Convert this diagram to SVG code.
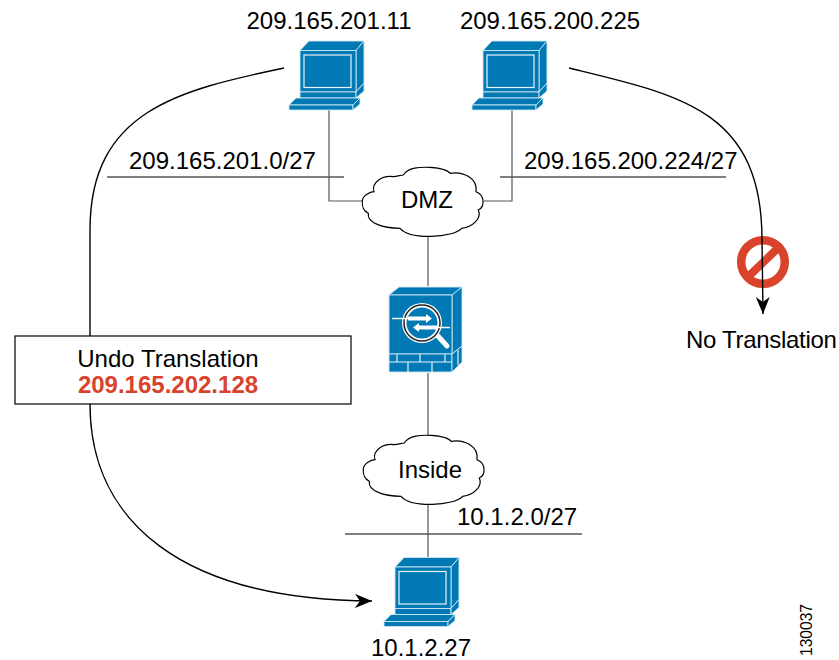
<svg xmlns="http://www.w3.org/2000/svg" width="839" height="660" viewBox="0 0 839 660">
<style>
text{font-family:"Liberation Sans",Arial,sans-serif;font-size:24px;fill:#000}
.m{text-anchor:middle}
.l{fill:none;stroke:#000;stroke-width:1}
.g{fill:none;stroke:#555;stroke-width:1.2}
.c{fill:none;stroke:#000;stroke-width:1.4}
.b{fill:#0079b5;stroke:#cfe6f2;stroke-width:.9;stroke-linejoin:round}
.w{fill:none;stroke:#e6f3fa;stroke-width:1.2}
.cl{fill:#fff;stroke:#000;stroke-width:1.2}
</style>
<defs>
<marker id="ah" markerWidth="18" markerHeight="16" refX="17" refY="7" orient="auto" markerUnits="userSpaceOnUse"><path d="M0,0 L17,7 L0,14 L5,7Z" fill="#000"/></marker>
<g id="pc">
<path class="b" d="M30,20.500 L39,11 L94,11 L86,20.500Z"/>
<path class="b" d="M86,20.500 L94,11 L94,53 L86,62Z"/>
<rect class="b" x="30" y="20.500" width="56" height="41.500"/>
<rect class="w" x="34" y="25" width="47" height="32.500"/>
<path class="b" d="M30,62 H86 V68 H30Z"/>
<path class="b" d="M86,62 L94,53 V61 L86,68Z"/>
<path class="b" d="M19,75 L26,68 H90 L83,75Z"/>
<path class="b" d="M19,75 H83 V80 H19Z"/>
<path class="b" d="M83,75 L90,68 V74 L83,80Z"/>
</g>
<path id="cloud" class="cl" d="M12.300,40.700 C13,35 20,32 24,31.700 C21,23 32,15 43.300,16.700 C48,16 52,15 53.300,15 C58,7 70,7 80,7.300 C90,8 98,10 100,13.300 C113,11 128,18 126,31.700 C135,35 135,47 128.300,50 C132,58 123,67 111.700,68.300 C103,78 60,80 50,68.300 C33,68 17,63 18.300,53.300 C12,50 12,45 12.300,40.700Z"/>
</defs>
<g id="no-sign">
<circle cx="763" cy="262" r="21.800" fill="none" stroke="#d9432b" stroke-width="8.500"/>
<path d="M749,276 L778,248" stroke="#d9432b" stroke-width="8"/>
</g>
<g id="connectors">
<path class="l" d="M107,177 H344"/>
<path class="l" d="M500,177 H726"/>
<path class="l" d="M345,534 H582"/>
<path class="g" d="M329,110 V201 H363"/>
<path class="g" d="M512,110 V201 H484"/>
<path class="g" d="M428,237 V286"/>
<path class="g" d="M428,373 V436"/>
<path class="g" d="M428,504 V557"/>
<path class="c" d="M284,68 C180,90 90,110 90,230 V336"/>
<path class="c" d="M90,404 C90,520 180,600 372,601" marker-end="url(#ah)"/>
<path class="c" d="M569,68 C680,95 762,110 762,240 L763,314" marker-end="url(#ah)"/>
</g>
<g id="pc1"><use href="#pc" x="270" y="30"/><text class="m" x="329" y="29">209.165.201.11</text></g>
<g id="pc2"><use href="#pc" x="453" y="30"/><text class="m" x="550" y="29">209.165.200.225</text></g>
<g id="pc3"><use href="#pc" x="365" y="546.500"/><text class="m" x="421" y="656">10.1.2.27</text></g>
<g id="dmz"><use href="#cloud" x="350" y="160"/><text class="m" x="427" y="208">DMZ</text></g>
<g id="inside"><use href="#cloud" x="351" y="428"/><text class="m" x="430" y="478">Inside</text></g>
<g id="firewall">
<path class="b" d="M389,295 L399,287 H462 L452,295Z"/>
<path class="b" d="M452,295 L462,287 V346 L452,354Z"/>
<rect class="b" x="389" y="295" width="63" height="59"/>
<rect class="b" x="389" y="354" width="63" height="18"/>
<path class="b" d="M452,354 L462,346 V362 L452,372Z"/>
<path class="w" d="M389,362 H452 M397,354 V362 M420,354 V362 M445,354 V362 M408,362 V372 M432,362 V372 M458,350 V365"/>
<path d="M437,335 L447,346" stroke="#fff" stroke-width="5" stroke-linecap="round"/>
<circle cx="422" cy="323" r="20" fill="#fff"/>
<circle cx="422" cy="323" r="18" fill="#fff" stroke="#222" stroke-width="1.500"/>
<circle cx="422" cy="323" r="15.500" fill="#0079b5"/>
<path d="M392,318.500 H412 M430,327.500 H450" stroke="#fff" stroke-width="1.300"/>
<path d="M408,316.500 H426 V314 L432,318.500 L426,323 V320.500 H408Z M438,325.500 H419 V323 L413,327.500 L419,332 V329.500 H438Z" fill="#fff"/>
</g>
<g id="nat-box">
<rect x="15" y="336" width="336" height="68" fill="#fff" stroke="#000" stroke-width="1.200"/>
<text class="m" x="168" y="367">Undo Translation</text>
<text class="m" x="168" y="393" style="font-weight:bold;fill:#d9432b">209.165.202.128</text>
</g>
<g id="labels">
<text x="129" y="169">209.165.201.0/27</text>
<text x="524" y="169">209.165.200.224/27</text>
<text x="457" y="525">10.1.2.0/27</text>
<text x="686" y="348" style="letter-spacing:-.3px">No Translation</text>
<text transform="translate(812,656) rotate(-90)" style="font-size:15.600px">130037</text>
</g>
</svg>
